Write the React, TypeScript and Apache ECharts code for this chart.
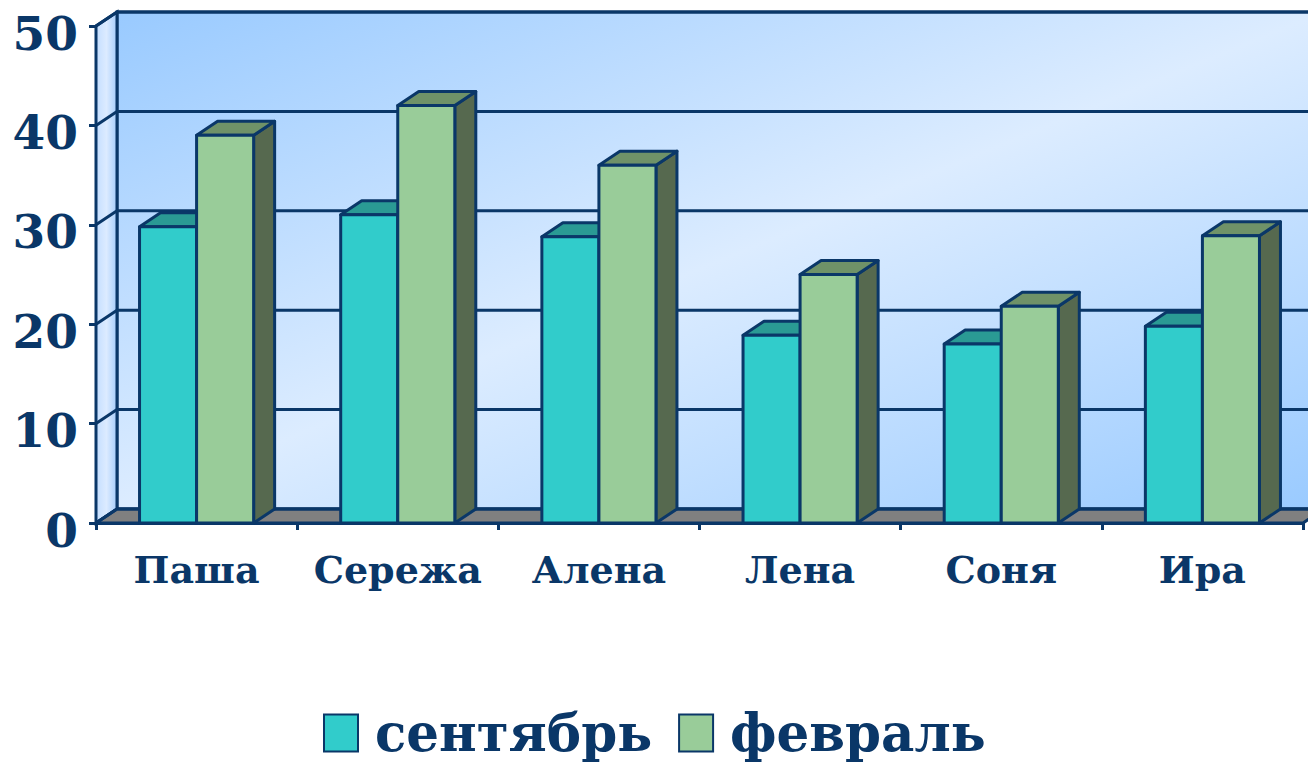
import React, { useEffect, useRef } from "react";
import * as echarts from "echarts";

const categories = ["Паша", "Сережа", "Алена", "Лена", "Соня", "Ира"];
const september = [29.8, 31, 28.8, 18.9, 18, 19.8];
const february = [39, 42, 36, 25, 21.8, 28.9];
const yTicks = [0, 10, 20, 30, 40, 50];

const INK = "#0A3768";
const FONT = "'DejaVu Serif', serif";
const DX = 21;
const DY = -14;
const LW = 3;
const BAR_FRAC = 57 / 201;

function barRender(offset: number, front: string, top: string, side: string) {
  return (_p: any, api: any) => {
    const band = api.size([1, 0])[0];
    const w = band * BAR_FRAC;
    const c = api.coord([api.value(0), api.value(1)]);
    const base = api.coord([api.value(0), 0]);
    const x0 = c[0] + offset * w;
    const x1 = x0 + w;
    const yt = c[1];
    const yb = base[1];
    const line = { stroke: INK, lineWidth: LW, lineJoin: "round" };
    return {
      type: "group",
      children: [
        { type: "polygon", shape: { points: [[x1, yt], [x1 + DX, yt + DY], [x1 + DX, yb + DY], [x1, yb]] }, style: { fill: side, ...line } },
        { type: "polygon", shape: { points: [[x0, yt], [x0 + DX, yt + DY], [x1 + DX, yt + DY], [x1, yt]] }, style: { fill: top, ...line } },
        { type: "polygon", shape: { points: [[x0, yt], [x1, yt], [x1, yb], [x0, yb]] }, style: { fill: front, ...line } },
      ],
    };
  };
}

function wallRender(_p: any, api: any) {
  const band = api.size([1, 0])[0];
  const left = api.coord([0, 0])[0] - band / 2;
  const right = api.coord([categories.length - 1, 0])[0] + band / 2;
  const y0 = api.coord([0, 0])[1];
  const y1 = api.coord([0, 50])[1];
  const line = { stroke: INK, lineWidth: LW };
  return {
    type: "group",
    children: [
      {
        type: "polygon",
        shape: { points: [[left + DX, y1 + DY], [right + DX, y1 + DY], [right + DX, y0 + DY], [left + DX, y0 + DY]] },
        style: {
          fill: new echarts.graphic.LinearGradient(0, 0, 1, 1, [
            { offset: 0, color: "#99CAFF" },
            { offset: 0.5, color: "#DCECFF" },
            { offset: 1, color: "#99CAFF" },
          ]),
          ...line,
        },
      },
      {
        type: "polygon",
        shape: { points: [[left, y1], [left + DX, y1 + DY], [left + DX, y0 + DY], [left, y0]] },
        style: {
          fill: new echarts.graphic.LinearGradient(0, 0, 1, 0, [
            { offset: 0, color: "#C4DEFF" },
            { offset: 0.5, color: "#DCEBFF" },
            { offset: 1, color: "#A6CDFB" },
          ]),
          ...line,
        },
      },
      {
        type: "polygon",
        shape: { points: [[left, y0], [left + DX, y0 + DY], [right + DX, y0 + DY], [right, y0]] },
        style: { fill: "#808080", ...line },
      },
    ],
  };
}

function gridRender(_p: any, api: any) {
  const band = api.size([1, 0])[0];
  const left = api.coord([0, 0])[0] - band / 2;
  const right = api.coord([categories.length - 1, 0])[0] + band / 2;
  const y = api.coord([0, api.value(0)])[1];
  return {
    type: "polyline",
    shape: { points: [[left, y], [left + DX, y + DY], [right + DX, y + DY]] },
    style: { fill: "none", stroke: INK, lineWidth: LW },
  };
}

export default function App() {
  const ref = useRef<HTMLDivElement>(null);
  useEffect(() => {
    const chart = echarts.init(ref.current!, null, { renderer: "svg" });
    chart.setOption({
      animation: false,
      backgroundColor: "#ffffff",
      grid: { left: 96, top: 26, width: 1207, height: 497, containLabel: false },
      legend: {
        data: ["сентябрь", "февраль"],
        left: 318,
        top: 702,
        itemWidth: 34,
        itemHeight: 37,
        itemGap: 26,
        icon: "rect",
        textStyle: { fontFamily: FONT, fontWeight: "bold", fontSize: 51.5, color: INK, padding: [0, 0, 0, 12] },
      },
      xAxis: {
        type: "category",
        data: categories,
        axisLine: { show: true, lineStyle: { color: INK, width: LW } },
        axisTick: { show: true, length: 7, interval: 0, lineStyle: { color: INK, width: LW } },
        axisLabel: { fontFamily: FONT, fontWeight: "bold", fontSize: 38, color: INK, margin: 27, interval: 0, hideOverlap: false },
      },
      yAxis: {
        type: "value",
        min: 0,
        max: 50,
        interval: 10,
        splitLine: { show: false },
        axisLine: { show: true, lineStyle: { color: INK, width: LW } },
        axisTick: { show: true, length: 7, lineStyle: { color: INK, width: LW } },
        axisLabel: { fontFamily: FONT, fontWeight: "bold", fontSize: 47, color: INK, margin: 18, verticalAlign: "top", lineHeight: 14 },
      },
      series: [
        { type: "custom", name: "стены", silent: true, z: 1, data: [0], renderItem: wallRender },
        { type: "custom", name: "сетка", silent: true, z: 1.5, data: yTicks, renderItem: gridRender, encode: { y: 0 } },
        {
          type: "custom",
          name: "сентябрь",
          z: 3,
          itemStyle: { color: "#31CCCB", borderColor: INK, borderWidth: 3 },
          data: september.map((v, i) => [i, v]),
          encode: { x: 0, y: 1 },
          renderItem: barRender(-1, "#31CCCB", "#2A9A94", "#207773"),
        },
        {
          type: "custom",
          name: "февраль",
          z: 4,
          itemStyle: { color: "#99CC99", borderColor: INK, borderWidth: 3 },
          data: february.map((v, i) => [i, v]),
          encode: { x: 0, y: 1 },
          renderItem: barRender(0, "#99CC99", "#6F9268", "#56694F"),
        },
      ],
    });
    return () => chart.dispose();
  }, []);
  return <div ref={ref} style={{ position: "fixed", left: 0, top: 0, width: 1308, height: 766 }} />;
}
